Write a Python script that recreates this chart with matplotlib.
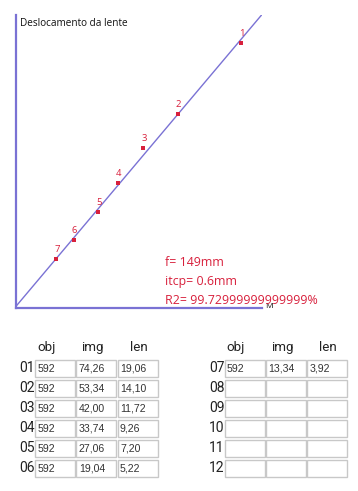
import matplotlib
matplotlib.use("Agg")
import matplotlib.pyplot as plt
from matplotlib.patches import Rectangle
import numpy as np

# ---- data ----
row_labels = ["01", "02", "03", "04", "05", "06", "07", "08", "09", "10", "11", "12"]
obj = [592, 592, 592, 592, 592, 592, 592]
img = [74.26, 53.34, 42.00, 33.74, 27.06, 19.04, 13.34]
lens = [19.06, 14.10, 11.72, 9.26, 7.20, 5.22, 3.92]
obj_txt = ["592", "592", "592", "592", "592", "592", "592"]
img_txt = ["74,26", "53,34", "42,00", "33,74", "27,06", "19,04", "13,34"]
len_txt = ["19,06", "14,10", "11,72", "9,26", "7,20", "5,22", "3,92"]
point_labels = ["1", "2", "3", "4", "5", "6", "7"]
headers = ["obj", "img", "len"]
f_mm = 149
itcp_mm = 0.6
r2_txt = "99.72999999999999%"

W, H = 358, 491
fig = plt.figure(figsize=(W / 100, H / 100), dpi=100)
fig.patch.set_facecolor("white")

red = "#d8203c"
axis_col = "#7a72d4"

# ---- chart ----
L, R, T, B = 16, 262, 15, 308
ax = fig.add_axes([L / W, 1 - B / H, (R - L) / W, (B - T) / H])
M = np.array(img) / np.array(obj)
xmax = 81.2 / 592
ax.set_xlim(0, xmax)
ax.set_ylim(0.48, 21.0)
xs = np.array([0, xmax])
ax.plot(xs, f_mm * xs + itcp_mm, color=axis_col, lw=1.0, zorder=2)
ax.plot(M, lens, linestyle="none", marker="s", markersize=3.2,
        color=red, markeredgewidth=0, zorder=3)
for xv, yv, lab in zip(M, lens, point_labels):
    ax.annotate(lab, (xv, yv), xytext=(0.5, 3.5), textcoords="offset points",
                ha="center", va="bottom", fontsize=6.8, color=red,
                family="Open Sans")
for s in ["top", "right"]:
    ax.spines[s].set_visible(False)
for s in ["left", "bottom"]:
    ax.spines[s].set_color(axis_col)
    ax.spines[s].set_linewidth(1.6)
ax.set_xticks([])
ax.set_yticks([])
ax.patch.set_alpha(0)

# ---- overlay in pixel coords ----
ov = fig.add_axes([0, 0, 1, 1])
ov.set_xlim(0, W)
ov.set_ylim(H, 0)
ov.axis("off")
ov.patch.set_alpha(0)

ov.text(20.5, 23, "Deslocamento da lente", fontsize=7.2, family="Open Sans",
        ha="left", va="center", color="#111111")
ov.text(269, 307, "M", fontsize=6.0, family="Open Sans", ha="center",
        va="center", color="#111111")
info = [f"f= {f_mm}mm", f"itcp= {itcp_mm}mm", f"R2= {r2_txt}"]
for i, t in enumerate(info):
    ov.text(165, 262.5 + 19 * i, t, fontsize=8.95, family="Open Sans",
            ha="left", va="center", color=red)

narrow = "Roboto"


def draw_table(x0, label_right, start, header_centers):
    for hc, h in zip(header_centers, headers):
        ov.text(hc, 347.5, h, fontsize=9.6, family=narrow, ha="center",
                va="center", color="#222222")
    for r in range(6):
        idx = start + r
        top = 359.5 + 20 * r
        ov.text(label_right, top + 8.6, row_labels[idx], fontsize=10.0,
                family=narrow, ha="right", va="center", color="#222222")
        vals = None
        if idx < len(obj_txt):
            vals = [obj_txt[idx], img_txt[idx], len_txt[idx]]
        for c in range(3):
            cx = x0 + c * 41.1
            ov.add_patch(Rectangle((cx, top), 40, 17.4, fill=False,
                                   edgecolor="#c8c8c8", lw=1.0))
            if vals:
                ov.text(cx + 2.5, top + 9.3, vals[c], fontsize=7.6,
                        family="Liberation Sans", ha="left", va="center",
                        color="#333333")


draw_table(35.3, 35, 0, [46.5, 92, 138.5])
draw_table(224.5, 224.5, 6, [235.5, 282, 327.5])

fig.savefig("out.png", dpi=100, facecolor="white")
